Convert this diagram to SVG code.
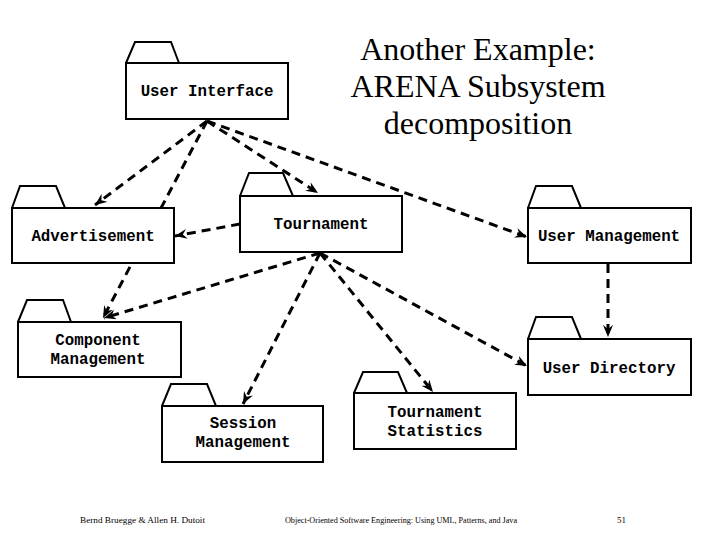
<svg xmlns="http://www.w3.org/2000/svg" width="720" height="540" viewBox="0 0 720 540">
<style>
.box{fill:#fff;stroke:#000;stroke-width:2}
.tab{fill:#fff;stroke:#000;stroke-width:2;stroke-linejoin:miter}
.lbl{font-family:"Liberation Mono","Courier New",monospace;font-weight:bold;font-size:15.8px;text-anchor:middle;fill:#000}
.dep{fill:none;stroke:#000;stroke-width:3;stroke-dasharray:9 6;marker-end:url(#arr)}
.title{font-family:"Liberation Serif","Times New Roman",serif;font-size:32px;text-anchor:middle;fill:#000}
.foot{font-family:"Liberation Serif","Times New Roman",serif;font-size:9px;fill:#000}
</style>
<defs>
<marker id="arr" markerWidth="14" markerHeight="12" refX="12" refY="5" orient="auto" markerUnits="userSpaceOnUse">
<path d="M0,0 L12,5 L0,10 L4,5 z" fill="#000"/>
</marker>
</defs>
<rect width="720" height="540" fill="#fff"/>
<g id="title">
<text class="title" x="478" y="60">Another Example:</text>
<text class="title" x="478" y="97">ARENA Subsystem</text>
<text class="title" x="478" y="134">decomposition</text>
</g>
<g id="connectors">
<path class="dep" d="M207,121 L95,205"/>
<path class="dep" d="M207,121 L103,318"/>
<path class="dep" d="M207,121 L318,193"/>
<path class="dep" d="M207,121 L527,237"/>
<path class="dep" d="M240,224 L175,236"/>
<path class="dep" d="M320,253 L104,318"/>
<path class="dep" d="M320,253 L243,404"/>
<path class="dep" d="M320,253 L433,392"/>
<path class="dep" d="M320,253 L527,366"/>
<path class="dep" d="M608,264 L608,337"/>
</g>
<g id="user-interface">
<path class="tab" d="M126,63 L135,42 L171,42 L179,63"/>
<rect class="box" x="126" y="63" width="162" height="56"/>
<text class="lbl" x="207" y="96">User Interface</text>
</g>
<g id="advertisement">
<path class="tab" d="M12,208 L20,186 L56,186 L65,208"/>
<rect class="box" x="12" y="208" width="162" height="55"/>
<text class="lbl" x="93" y="241">Advertisement</text>
</g>
<g id="tournament">
<path class="tab" d="M240,196 L249,173 L283,173 L293,196"/>
<rect class="box" x="240" y="196" width="162" height="56"/>
<text class="lbl" x="321" y="229">Tournament</text>
</g>
<g id="user-management">
<path class="tab" d="M528,208 L536,186 L572,186 L581,208"/>
<rect class="box" x="528" y="208" width="163" height="55"/>
<text class="lbl" x="609" y="241">User Management</text>
</g>
<g id="component-management">
<path class="tab" d="M18,322 L27,300 L63,300 L71,322"/>
<rect class="box" x="18" y="322" width="163" height="55"/>
<text class="lbl" x="98" y="345">Component</text>
<text class="lbl" x="98" y="364">Management</text>
</g>
<g id="user-directory">
<path class="tab" d="M528,339 L536,317 L572,317 L581,339"/>
<rect class="box" x="528" y="339" width="163" height="56"/>
<text class="lbl" x="609" y="373">User Directory</text>
</g>
<g id="session-management">
<path class="tab" d="M162,406 L171,384 L207,384 L216,406"/>
<rect class="box" x="162" y="406" width="161" height="56"/>
<text class="lbl" x="243" y="428">Session</text>
<text class="lbl" x="243" y="447">Management</text>
</g>
<g id="tournament-statistics">
<path class="tab" d="M354,393 L363,372 L398,372 L407,393"/>
<rect class="box" x="354" y="393" width="162" height="56"/>
<text class="lbl" x="435" y="417">Tournament</text>
<text class="lbl" x="435" y="436">Statistics</text>
</g>
<g id="footer">
<text class="foot" x="80" y="523" textLength="125" lengthAdjust="spacingAndGlyphs">Bernd Bruegge &amp; Allen H. Dutoit</text>
<text class="foot" x="285" y="523" textLength="232" lengthAdjust="spacingAndGlyphs">Object-Oriented Software Engineering: Using UML, Patterns, and Java</text>
<text class="foot" x="617" y="523">51</text>
</g>
</svg>
